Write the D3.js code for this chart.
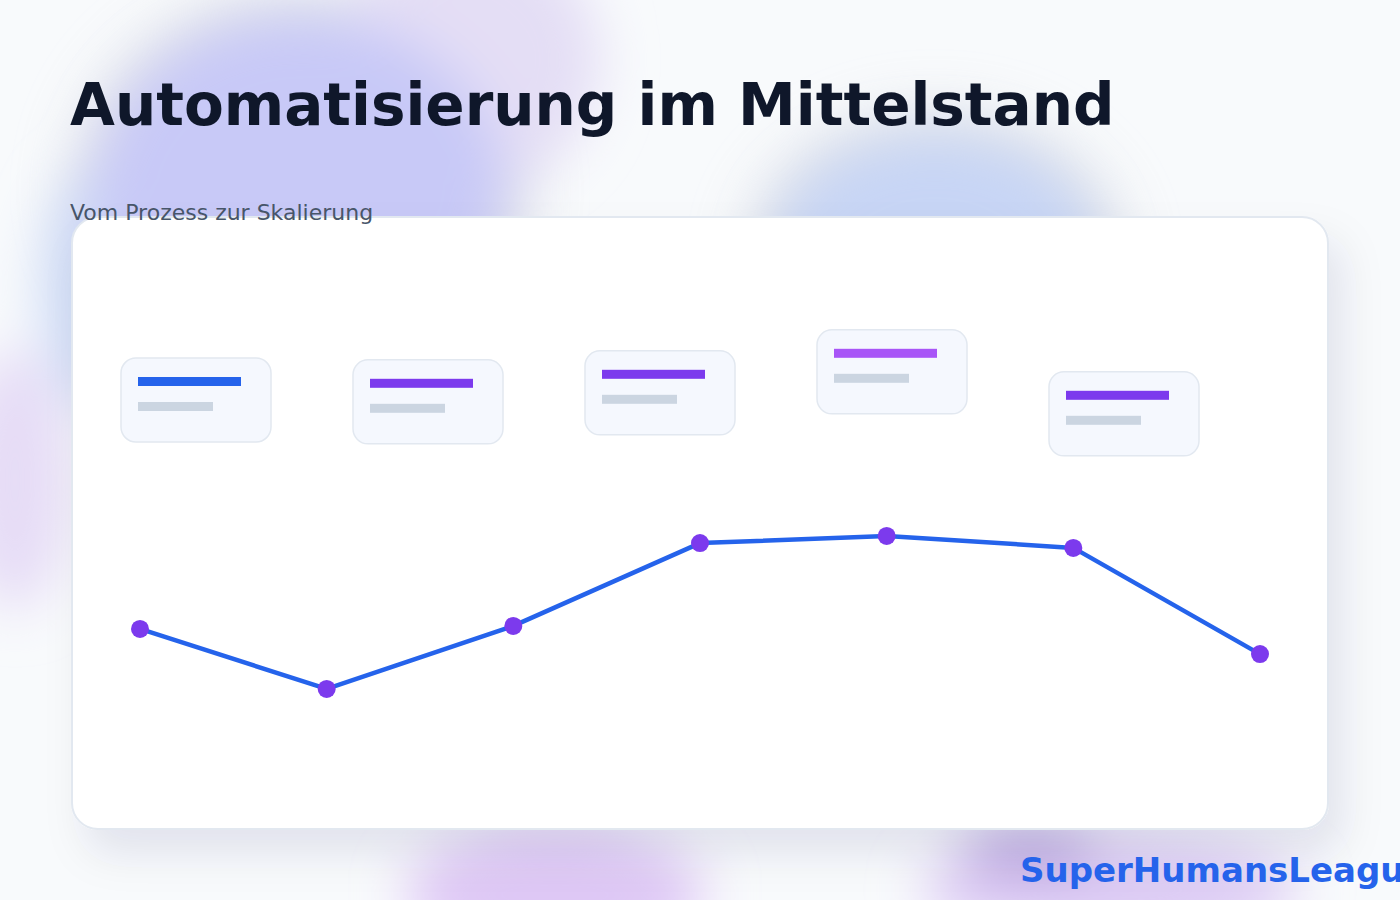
<!DOCTYPE html>
<html>
<head>
<meta charset="utf-8">
<script src="https://cdn.jsdelivr.net/npm/d3@7"></script>
<style>
html,body{margin:0;padding:0;background:#f8fafc;overflow:hidden;}
svg{display:block;font-family:"DejaVu Sans",sans-serif;}
</style>
</head>
<body>
<svg id="chart" width="1400" height="900"></svg>
<script>
// ---- data ----
const title = "Automatisierung im Mittelstand";
const subtitle = "Vom Prozess zur Skalierung";
const brand = "SuperHumansLeague";

const steps = [1, 2, 3, 4, 5, 6, 7];
const values = [43.7, 23.7, 44.7, 72.3, 74.7, 70.7, 35.3];

const cardIds = [1, 2, 3, 4, 5];
const cardLevels = [67.3, 66.7, 69.7, 76.7, 62.7];
const cardColors = ["#2563eb", "#7c3aed", "#7c3aed", "#a855f7", "#7c3aed"];

// ---- drawing ----
const W = 1400, H = 900;
const svg = d3.select("#chart");
const defs = svg.append("defs");

const blur = defs.append("filter").attr("id", "blobBlur")
  .attr("x", "-50%").attr("y", "-50%").attr("width", "200%").attr("height", "200%");
blur.append("feGaussianBlur").attr("stdDeviation", 26);

const halo = defs.append("filter").attr("id", "haloBlur")
  .attr("x", "-50%").attr("y", "-50%").attr("width", "200%").attr("height", "200%");
halo.append("feGaussianBlur").attr("stdDeviation", 30);

const shadow = defs.append("filter").attr("id", "cardShadow")
  .attr("x", "-10%").attr("y", "-10%").attr("width", "125%").attr("height", "130%");
shadow.append("feDropShadow").attr("dx", 14).attr("dy", 24).attr("stdDeviation", 20)
  .attr("flood-color", "#1e1b4b").attr("flood-opacity", 0.09);

svg.append("rect").attr("width", W).attr("height", H).attr("fill", "#f8fafc");

// background blobs
const blobs = [
  {cx: 470, cy: 60, rx: 130, ry: 130, c: "#e4def5", o: 1},
  {cx: 95, cy: 290, rx: 55, ry: 120, c: "#cfdbf6", o: 1},
  {cx: 15, cy: 480, rx: 55, ry: 130, c: "#e6dcf6", o: 1},
  {cx: 300, cy: 190, rx: 205, ry: 175, c: "#c8c9f7", o: 1},
  {cx: 935, cy: 255, rx: 165, ry: 120, c: "#c7d5f5", o: 1},
  {cx: 555, cy: 895, rx: 150, ry: 65, c: "#dec8f5", o: 1},
  {cx: 1110, cy: 890, rx: 190, ry: 50, c: "#dccaf4", o: 1},
  {cx: 1030, cy: 850, rx: 70, ry: 22, c: "#b39cdb", o: 0.9}
];
const bgHalo = svg.append("g").attr("filter", "url(#haloBlur)").attr("opacity", 0.35);
bgHalo.selectAll("ellipse").data(blobs.slice(3, 5)).join("ellipse")
  .attr("cx", d => d.cx).attr("cy", d => d.cy)
  .attr("rx", d => d.rx + 25).attr("ry", d => d.ry + 25)
  .attr("fill", "#b9bcc8");
const bg = svg.append("g").attr("filter", "url(#blobBlur)");
bg.selectAll("ellipse").data(blobs).join("ellipse")
  .attr("cx", d => d.cx).attr("cy", d => d.cy)
  .attr("rx", d => d.rx).attr("ry", d => d.ry)
  .attr("fill", d => d.c).attr("opacity", d => d.o);

// card
const card = {x: 72, y: 217, w: 1256, h: 612};
svg.append("rect")
  .attr("x", card.x).attr("y", card.y).attr("width", card.w).attr("height", card.h)
  .attr("rx", 26).attr("fill", "#ffffff")
  .attr("stroke", "#e2e8f0").attr("stroke-width", 2)
  .attr("filter", "url(#cardShadow)");

// title & subtitle
svg.append("text").attr("x", 70).attr("y", 125)
  .attr("font-size", 58).attr("font-weight", 700).attr("fill", "#0f172a")
  .text(title);
svg.append("text").attr("x", 70).attr("y", 220)
  .attr("font-size", 22).attr("fill", "#475569")
  .text(subtitle);

// scales
const x = d3.scalePoint().domain(steps).range([140, 1260]);
const y = d3.scaleLinear().domain([0, 100]).range([760, 460]);
const xc = d3.scalePoint().domain(cardIds).range([121, 1049]);

// floating cards (level -> top edge through the same vertical scale, shifted up)
const cw = 150, ch = 84, lift = y(67.3) - 358;
const cg = svg.append("g").selectAll("g").data(cardIds).join("g")
  .attr("transform", (d, i) => `translate(${xc(d)},${y(cardLevels[i]) - lift})`);
cg.append("rect").attr("width", cw).attr("height", ch).attr("rx", 15)
  .attr("fill", "#f5f8fe").attr("stroke", "#e2e8f0").attr("stroke-width", 1.5);
cg.append("rect").attr("x", 17).attr("y", 19).attr("width", 103).attr("height", 9)
  .attr("fill", (d, i) => cardColors[i]);
cg.append("rect").attr("x", 17).attr("y", 44).attr("width", 75).attr("height", 9)
  .attr("fill", "#cbd5e1");

// line
const line = d3.line().x((d, i) => x(steps[i])).y(d => y(d));
svg.append("path").datum(values).attr("d", line)
  .attr("fill", "none").attr("stroke", "#2563eb").attr("stroke-width", 4.5)
  .attr("stroke-linejoin", "round");
svg.append("g").selectAll("circle").data(values).join("circle")
  .attr("cx", (d, i) => x(steps[i])).attr("cy", d => y(d)).attr("r", 9)
  .attr("fill", "#7c3aed");

// brand
svg.append("text").attr("x", 1020).attr("y", 882)
  .attr("font-size", 34).attr("font-weight", 700).attr("fill", "#2563eb")
  .text(brand);
</script>
</body>
</html>
